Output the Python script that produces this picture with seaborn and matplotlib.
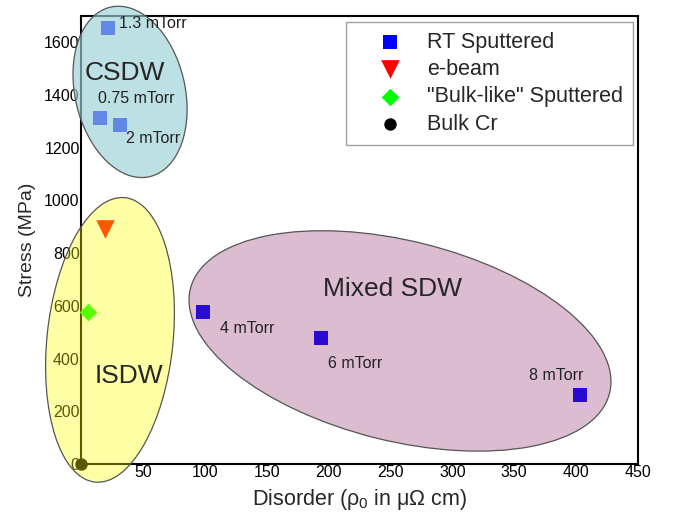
import numpy as np
import pandas as pd
import matplotlib
matplotlib.use('Agg')
import matplotlib.pyplot as plt
import matplotlib.transforms as mtransforms
from matplotlib.patches import Ellipse
import seaborn as sns

# data
rt_x = [21.8, 15.3, 31.5, 98.5, 194.0, 403.0]
rt_y = [1655, 1313, 1287, 577, 478, 262]
rt_labels = ['1.3 mTorr', '0.75 mTorr', '2 mTorr', '4 mTorr', '6 mTorr', '8 mTorr']
ebeam_x = [19.5]
ebeam_y = [893]
bulklike_x = [6.0]
bulklike_y = [575]
bulk_x = [0.0]
bulk_y = [0]

groups = ['RT Sputtered', 'e-beam', '"Bulk-like" Sputtered', 'Bulk Cr']
x_ticks = [50, 100, 150, 200, 250, 300, 350, 400, 450]
y_ticks = [0, 200, 400, 600, 800, 1000, 1200, 1400, 1600]

df = pd.concat([
    pd.DataFrame({'x': rt_x, 'y': rt_y, 'kind': groups[0]}),
    pd.DataFrame({'x': ebeam_x, 'y': ebeam_y, 'kind': groups[1]}),
    pd.DataFrame({'x': bulklike_x, 'y': bulklike_y, 'kind': groups[2]}),
    pd.DataFrame({'x': bulk_x, 'y': bulk_y, 'kind': groups[3]}),
], ignore_index=True)

sns.set_theme(style='white')
plt.rcParams['font.family'] = ['Liberation Sans', 'DejaVu Sans']
plt.rcParams['mathtext.fontset'] = 'custom'
plt.rcParams['mathtext.rm'] = 'Liberation Sans'
plt.rcParams['mathtext.it'] = 'Liberation Sans'

palette = {groups[0]: '#0000ff', groups[1]: '#ff0000', groups[2]: '#00ff00', groups[3]: '#000000'}
markers = {groups[0]: 's', groups[1]: 'v', groups[2]: 'D', groups[3]: 'o'}
sizes = {groups[0]: 90, groups[1]: 180, groups[2]: 80, groups[3]: 80}

fig = plt.figure(figsize=(6.73, 5.21), dpi=100)
ax = fig.add_axes([0.1204, 0.1094, 0.8276, 0.8599])

for g in groups:
    sub = df[df['kind'] == g]
    sns.scatterplot(data=sub, x='x', y='y', color=palette[g], marker=markers[g],
                    s=sizes[g], linewidth=0, ax=ax, label=g, zorder=3, clip_on=False)

ax.set_xlim(0, 450)
ax.set_ylim(0, 1700)
ax.set_xticks(x_ticks)
ax.set_yticks(y_ticks)
ax.tick_params(axis='both', labelsize=11.5, length=0, pad=1, colors='black')
for sp in ax.spines.values():
    sp.set_color('black')
    sp.set_linewidth(1.5)

ax.set_xlabel(r'Disorder ($\mathregular{\rho_0}$ in $\mathregular{\mu\Omega}$ cm)', fontsize=15.5, labelpad=5)
ax.set_ylabel('Stress (MPa)', fontsize=14, labelpad=6)

# region ellipses, sized in pixels so the tilt is not distorted
regions = [
    # center (data), width px, height px, angle, rgba face
    ((39.6, 1412), 174, 110, 103, (154/255, 208/255, 215/255, 0.65)),
    ((23.4, 471), 286, 126, 84, (1.0, 1.0, 0.0, 0.35)),
    ((257.7, 467), 432, 200, -14, (138/255, 34/255, 103/255, 0.3)),
]
for (cx, cy), w, h, ang, fc in regions:
    tr = fig.dpi_scale_trans + mtransforms.ScaledTranslation(cx, cy, ax.transData)
    e = Ellipse((0, 0), w / 100, h / 100, angle=ang, transform=tr,
                facecolor=fc, edgecolor='#555555', linewidth=0.9, zorder=10, clip_on=False)
    ax.add_artist(e)

ax.text(35.5, 1484, 'CSDW', fontsize=19, ha='center', va='center', zorder=11)
ax.text(38.8, 334, 'ISDW', fontsize=19, ha='center', va='center', zorder=11)
ax.text(252, 664, 'Mixed SDW', fontsize=19, ha='center', va='center', zorder=11)

# pressure labels next to the RT sputtered points
offsets = [((8, 3), 'left'), ((26, 14), 'center'), ((4, -10), 'left'),
           ((12, -12), 'left'), ((5, -18), 'left'), ((-17, 14), 'center')]
for xx, yy, lab, (off, ha) in zip(rt_x, rt_y, rt_labels, offsets):
    ax.annotate(lab, (xx, yy), xytext=off, textcoords='offset points',
                fontsize=11.5, ha=ha, va='center', color='#222222', zorder=11)

leg = ax.legend(loc='upper right', bbox_to_anchor=(0.991, 0.987), borderaxespad=0,
                fontsize=15.5, frameon=True, fancybox=False, edgecolor='#888888',
                handlelength=3.2, handletextpad=0.12, labelspacing=0.3, borderpad=0.45)
leg.get_frame().set_linewidth(1.0)

fig.savefig('out.png', dpi=100)
